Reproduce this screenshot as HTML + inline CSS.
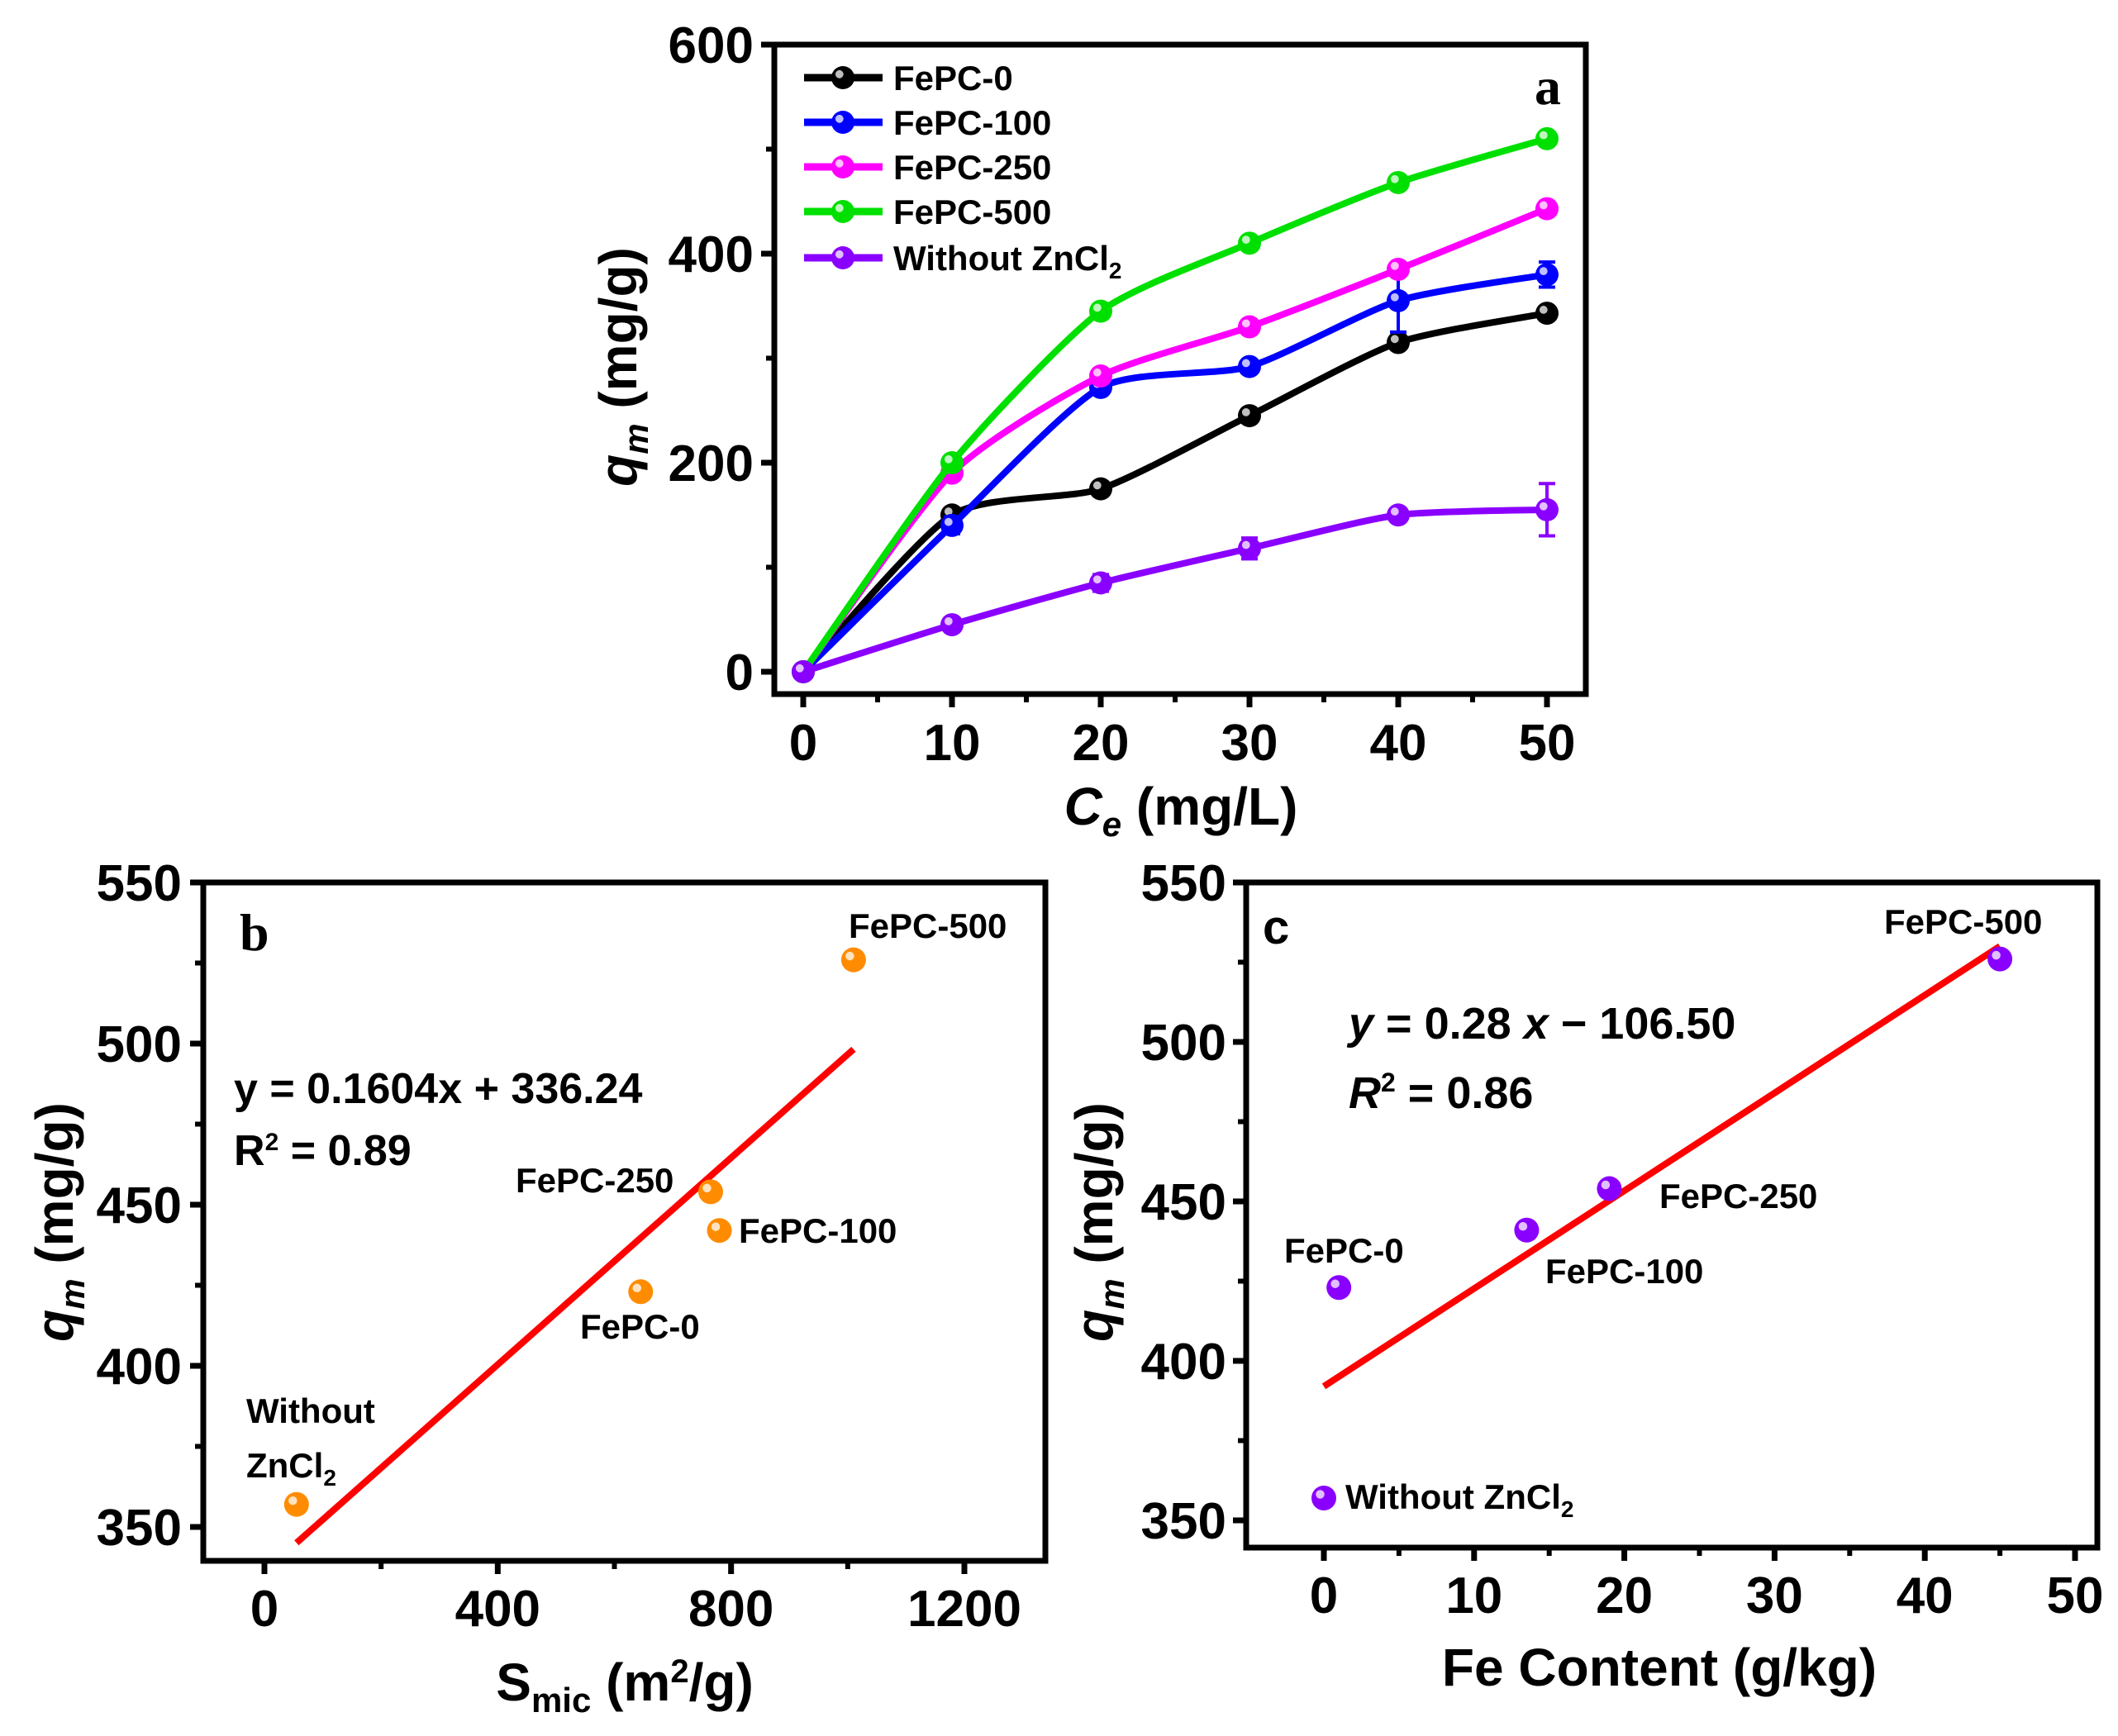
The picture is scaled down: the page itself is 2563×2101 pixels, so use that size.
<!DOCTYPE html>
<html><head><meta charset="utf-8">
<style>
html,body{margin:0;padding:0;background:#fff;}
svg{display:block;font-family:"Liberation Sans",Arial,sans-serif;font-weight:bold;}
</style></head>
<body>
<svg id="fig" width="2563" height="2101" viewBox="0 0 2563 2101" xmlns="http://www.w3.org/2000/svg"></svg>
<script>
// ---- Panel a data ----
const aX = [0, 10, 20, 30, 40, 50];
const aNames = ["FePC-0", "FePC-100", "FePC-250", "FePC-500", "Without ZnCl2"];
const aColors = ["#000000", "#0000ff", "#ff00ff", "#00e000", "#8a00ff"];
const aFePC0 = [0, 150, 175, 245, 315, 343];
const aFePC100 = [0, 140, 272, 292, 355, 380];
const aFePC250 = [0, 190, 283, 330, 385, 443];
const aFePC500 = [0, 200, 345, 410, 468, 510];
const aWithout = [0, 45, 85, 118, 150, 155];
const aErrWithout = [0, 6, 8, 10, 6, 25];
const aErr100 = [0, 8, 6, 6, 30, 12];
const aXTicks = [0, 10, 20, 30, 40, 50];
const aYTicks = [0, 200, 400, 600];
// ---- Panel b data ----
const bNames = ["Without ZnCl2", "FePC-0", "FePC-250", "FePC-100", "FePC-500"];
const bX = [55, 645, 765, 780, 1010];
const bY = [357, 423, 454, 442, 526];
const bFit = [0.1604, 336.24];
const bFitRange = [55, 1010];
const bXTicks = [0, 400, 800, 1200];
const bYTicks = [350, 400, 450, 500, 550];
// ---- Panel c data ----
const cNames = ["Without ZnCl2", "FePC-0", "FePC-100", "FePC-250", "FePC-500"];
const cX = [0, 1, 13.5, 19, 45];
const cY = [357, 423, 441, 454, 526];
const cFitEnds = [392, 530];
const cFitRange = [0, 45];
const cXTicks = [0, 10, 20, 30, 40, 50];
const cYTicks = [350, 400, 450, 500, 550];

const NS = "http://www.w3.org/2000/svg";
const svg = document.getElementById("fig");
function mk(tag, attrs, parent, text) {
  const e = document.createElementNS(NS, tag);
  for (const k in attrs) e.setAttribute(k, attrs[k]);
  if (text !== undefined) e.textContent = text;
  (parent || svg).appendChild(e);
  return e;
}
function lin(d0, d1, r0, r1) { return v => r0 + (v - d0) * (r1 - r0) / (d1 - d0); }

function frame(g, L, R, T, B) {
  const r = mk("rect", {x: L, y: T, width: R - L, height: B - T, fill: "none", stroke: "#000", "stroke-width": 7}, g);
  
  
}
function xTicks(g, ticks, sx, B, ly, minor) {
  ticks.forEach((t, i) => {
    const x = sx(t);
    const tk = mk("line", {x1: x, x2: x, y1: B, y2: B + 16, stroke: "#000", "stroke-width": 7}, g);
    
    
    const lb = mk("text", {x: x, y: ly, "font-size": 62, "text-anchor": "middle"}, g, String(t));
    
    
    if (minor !== undefined && i < ticks.length - 1) {
      const xm = sx(t + minor);
      const mt = mk("line", {x1: xm, x2: xm, y1: B, y2: B + 10, stroke: "#000", "stroke-width": 6}, g);
      
      
    }
  });
}
function yTicks(g, ticks, sy, L, lx, minor) {
  ticks.forEach((t, i) => {
    const y = sy(t);
    const tk = mk("line", {x1: L - 16, x2: L, y1: y, y2: y, stroke: "#000", "stroke-width": 7}, g);
    
    
    const lb = mk("text", {x: lx, y: y + 22, "font-size": 62, "text-anchor": "end"}, g, String(t));
    
    
    if (minor !== undefined && i < ticks.length - 1) {
      const ym = sy(t + minor);
      const mt = mk("line", {x1: L - 10, x2: L, y1: ym, y2: ym, stroke: "#000", "stroke-width": 6}, g);
      
      
    }
  });
}
function marker(g, x, y, color, r) {
  const c = mk("circle", {cx: x, cy: y, r: r, fill: color}, g);
  
  
  const h = mk("circle", {cx: x - r * 0.3, cy: y - r * 0.3, r: r * 0.35, fill: "#fff", opacity: 0.75}, g);
  
  
}
function spline(pts) {
  let d = "M" + pts[0][0] + "," + pts[0][1];
  const k = 9;
  for (let i = 0; i < pts.length - 1; i++) {
    const p0 = pts[i - 1] || pts[i], p1 = pts[i], p2 = pts[i + 1], p3 = pts[i + 2] || p2;
    const c1 = [p1[0] + (p2[0] - p0[0]) / k, p1[1] + (p2[1] - p0[1]) / k];
    const c2 = [p2[0] - (p3[0] - p1[0]) / k, p2[1] - (p3[1] - p1[1]) / k];
    d += " C" + c1 + " " + c2 + " " + p2;
  }
  return d;
}

// ===== Panel a =====
(function () {
  const g = mk("g", {});
  
  
  const L = 937, R = 1919, T = 54, B = 840;
  const sx = lin(0, 50, 972, 1872), sy = lin(0, 600, 813, 54);
  frame(g, L, R, T, B);
  xTicks(g, aXTicks, sx, B, 920, 5);
  yTicks(g, aYTicks, sy, L, 912, 100);
  const series = [aFePC0, aFePC100, aFePC250, aFePC500, aWithout];
  const errs = [null, aErr100, null, null, aErrWithout];
  series.forEach((s, k) => {
    const pts = aX.map((x, i) => [sx(x), sy(s[i])]);
    const p = mk("path", {d: spline(pts), fill: "none", stroke: aColors[k], "stroke-width": 8}, g);
    
    
    if (errs[k]) errs[k].forEach((e, i) => {
      if (!e) return;
      const x = sx(aX[i]);
      const eb = mk("path", {d: `M${x},${sy(s[i] - e)}V${sy(s[i] + e)}M${x - 10},${sy(s[i] - e)}h20M${x - 10},${sy(s[i] + e)}h20`, stroke: aColors[k], "stroke-width": 4, fill: "none"}, g);
      
      
    });
    pts.forEach(pt => marker(g, pt[0], pt[1], aColors[k], 14));
  });
  const lg = mk("g", {}, g);
  
  
  const rows = [94, 148, 202, 256, 312];
  aNames.forEach((n, k) => {
    const y = rows[k];
    const ln = mk("line", {x1: 973, x2: 1068, y1: y, y2: y, stroke: aColors[k], "stroke-width": 9}, lg);
    
    
    marker(lg, 1020, y, aColors[k], 14);
    const t = mk("text", {x: 1081, y: y + 15, "font-size": 42}, lg);
    
    
    if (n === "Without ZnCl2") {
      t.appendChild(document.createTextNode("Without ZnCl"));
      mk("tspan", {dy: 10, "font-size": 28}, t, "2");
    } else t.textContent = n;
  });
  const pl = mk("text", {x: 1873, y: 126, "font-size": 64, "font-family": "Liberation Serif, serif", "text-anchor": "middle"}, g, "a");
  
  
  const xt = mk("text", {x: 1429, y: 998, "font-size": 64, "text-anchor": "middle"}, g);
  
  
  mk("tspan", {"font-style": "italic"}, xt, "C");
  mk("tspan", {dy: 14, "font-size": 42, "font-style": "italic"}, xt, "e");
  mk("tspan", {dy: -14}, xt, " (mg/L)");
  const yt = mk("text", {x: 0, y: 0, "font-size": 64, "text-anchor": "middle", transform: "translate(770,444) rotate(-90)"}, g);
  
  
  mk("tspan", {"font-style": "italic"}, yt, "q");
  mk("tspan", {dy: 14, "font-size": 42, "font-style": "italic"}, yt, "m");
  mk("tspan", {dy: -14}, yt, " (mg/g)");
})();

function scatterPanel(name, L, R, T, B, sx, sy, xs, ys, names, color, fitPts, xtk, ytk, xLabelY, ylx, minorX, minorY) {
  const g = mk("g", {});
  
  
  frame(g, L, R, T, B);
  xTicks(g, xtk, sx, B, xLabelY, minorX);
  yTicks(g, ytk, sy, L, ylx, minorY);
  const f = mk("line", {x1: sx(fitPts[0][0]), y1: sy(fitPts[0][1]), x2: sx(fitPts[1][0]), y2: sy(fitPts[1][1]), stroke: "#ff0000", "stroke-width": 8}, g);
  
  
  xs.forEach((x, i) => marker(g, sx(x), sy(ys[i]), color, 15));
  return g;
}
function label(g, x, y, txt, size, sub) {
  const t = mk("text", {x: x, y: y, "font-size": size || 42}, g);
  
  
  t.appendChild(document.createTextNode(txt));
  if (sub) mk("tspan", {dy: 10, "font-size": 28}, t, sub);
  return t;
}

// ===== Panel b =====
(function () {
  const sx = lin(0, 1200, 320, 1167), sy = lin(350, 550, 1848, 1068);
  const g = scatterPanel("panel-b", 246, 1265, 1068, 1889, sx, sy, bX, bY, bNames, "#ff8c00",
    [[bFitRange[0], bFit[0] * bFitRange[0] + bFit[1]], [bFitRange[1], bFit[0] * bFitRange[1] + bFit[1]]],
    bXTicks, bYTicks, 1968, 220, 200, 25);
  label(g, 1027, 1135, "FePC-500");
  label(g, 624, 1443, "FePC-250");
  label(g, 894, 1504, "FePC-100");
  label(g, 702, 1620, "FePC-0");
  label(g, 298, 1722, "Without");
  label(g, 298, 1788, "ZnCl", 42, "2");
  const pl = mk("text", {x: 290, y: 1150, "font-size": 64, "font-family": "Liberation Serif, serif"}, g, "b");
  
  
  const eq = mk("text", {x: 283, y: 1335, "font-size": 52}, g, "y = 0.1604x + 336.24");
  
  
  const r2 = mk("text", {x: 283, y: 1410, "font-size": 52}, g);
  
  
  r2.appendChild(document.createTextNode("R"));
  mk("tspan", {dy: -18, "font-size": 30}, r2, "2");
  mk("tspan", {dy: 18}, r2, " = 0.89");
  const xt = mk("text", {x: 756, y: 2058, "font-size": 64, "text-anchor": "middle"}, g);
  
  
  xt.appendChild(document.createTextNode("S"));
  mk("tspan", {dy: 14, "font-size": 42}, xt, "mic");
  mk("tspan", {dy: -14}, xt, " (m");
  mk("tspan", {dy: -22, "font-size": 40}, xt, "2");
  mk("tspan", {dy: 22}, xt, "/g)");
  const yt = mk("text", {x: 0, y: 0, "font-size": 64, "text-anchor": "middle", transform: "translate(88,1479) rotate(-90)"}, g);
  
  
  mk("tspan", {"font-style": "italic"}, yt, "q");
  mk("tspan", {dy: 14, "font-size": 42, "font-style": "italic"}, yt, "m");
  mk("tspan", {dy: -14}, yt, " (mg/g)");
})();

// ===== Panel c =====
(function () {
  const sx = lin(0, 50, 1602, 2511), sy = lin(350, 550, 1840, 1068);
  const g = scatterPanel("panel-c", 1508, 2538, 1068, 1873, sx, sy, cX, cY, cNames, "#8a00ff",
    [[cFitRange[0], cFitEnds[0]], [cFitRange[1], cFitEnds[1]]],
    cXTicks, cYTicks, 1952, 1484, 5, 25);
  label(g, 2280, 1130, "FePC-500");
  label(g, 2008, 1462, "FePC-250");
  label(g, 1870, 1553, "FePC-100");
  label(g, 1554, 1528, "FePC-0");
  label(g, 1628, 1826, "Without ZnCl", 42, "2");
  const pl = mk("text", {x: 1528, y: 1142, "font-size": 58}, g, "c");
  
  
  const eq = mk("text", {x: 1632, y: 1257, "font-size": 54}, g);
  
  
  mk("tspan", {"font-style": "italic"}, eq, "y");
  mk("tspan", {}, eq, " = 0.28 ");
  mk("tspan", {"font-style": "italic"}, eq, "x");
  mk("tspan", {}, eq, " \u2212 106.50");
  const r2 = mk("text", {x: 1632, y: 1341, "font-size": 54}, g);
  
  
  mk("tspan", {"font-style": "italic"}, r2, "R");
  mk("tspan", {dy: -20, "font-size": 32}, r2, "2");
  mk("tspan", {dy: 20}, r2, " = 0.86");
  const xt = mk("text", {x: 2008, y: 2040, "font-size": 64, "text-anchor": "middle"}, g, "Fe Content (g/kg)");
  
  
  const yt = mk("text", {x: 0, y: 0, "font-size": 64, "text-anchor": "middle", transform: "translate(1346,1479) rotate(-90)"}, g);
  
  
  mk("tspan", {"font-style": "italic"}, yt, "q");
  mk("tspan", {dy: 14, "font-size": 42, "font-style": "italic"}, yt, "m");
  mk("tspan", {dy: -14}, yt, " (mg/g)");
})();
</script>
</body></html>
